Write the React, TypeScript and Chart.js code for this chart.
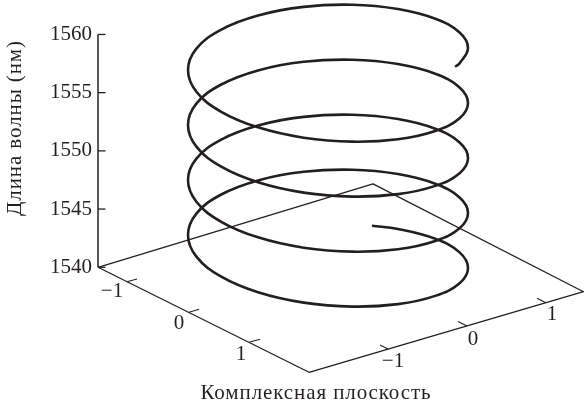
import React, { useEffect, useRef } from "react";
import { Chart, registerables } from "chart.js";

Chart.register(...registerables);

// Helix: horizontal position in the projected plane, height in nm-equivalent
const helixX = [
  372, 398, 435.2, 459.6,
  468, 459.6, 435.2, 398, 352.3, 303.7, 258, 220.8, 196.4, 188, 196.4, 220.8, 258, 303.7, 352.3, 398, 435.2, 459.6,
  468, 459.6, 435.2, 398, 352.3, 303.7, 258, 220.8, 196.4, 188, 196.4, 220.8, 258, 303.7, 352.3, 398, 435.2, 459.6,
  468, 459.6, 435.2, 398, 352.3, 303.7, 258, 220.8, 196.4, 188, 196.4, 220.8, 258, 303.7, 352.3, 398, 435.2, 459.6,
  468, 459.6, 435.2, 398, 352.3, 303.7, 258, 220.8, 196.4, 188, 196.4, 220.8, 258, 303.7, 352.3, 398, 435.2, 459.6,
  468, 459.6, 455,
];
const helixY = [
  1543.57, 1543.29, 1542.45, 1541.28,
  1539.94, 1538.63, 1537.54, 1536.83, 1536.62, 1536.96, 1537.85, 1539.21, 1540.91, 1542.77, 1544.61, 1546.23, 1547.46, 1548.2, 1548.38, 1548.01, 1547.18, 1546.0,
  1544.66, 1543.35, 1542.26, 1541.55, 1541.34, 1541.68, 1542.57, 1543.93, 1545.63, 1547.49, 1549.33, 1550.95, 1552.18, 1552.92, 1553.1, 1552.73, 1551.9, 1550.72,
  1549.39, 1548.08, 1546.99, 1546.28, 1546.07, 1546.41, 1547.3, 1548.66, 1550.36, 1552.22, 1554.06, 1555.68, 1556.91, 1557.65, 1557.83, 1557.46, 1556.63, 1555.45,
  1554.11, 1552.8, 1551.71, 1551.0, 1550.79, 1551.13, 1552.02, 1553.38, 1555.08, 1556.94, 1558.78, 1560.4, 1561.63, 1562.37, 1562.55, 1562.18, 1561.35, 1560.17,
  1558.84, 1557.53, 1557.23,
];

const floorX = [98, 373, 583.5, 309, 98];
const floorY = [1540, 1547.16, 1537.9, 1530.98, 1540];

const axisX = [98, 98];
const axisY = [1540, 1560];

const waveTicks = [1540, 1545, 1550, 1555, 1560];
const waveTickEndX = 105.5;

const planeTickX = [[127,137],[189,199],[249,260],[380,388],[458,467],[537,546]];
const planeTickY = [[1538.76,1538.99],[1536.13,1536.39],[1533.56,1533.82],[1533.33,1532.98],[1535.33,1534.96],[1537.34,1536.96]];

const planeLabels = ["−1", "0", "1", "−1", "0", "1"];
const planeLabelX = [112, 179, 241, 393, 473, 552];
const planeLabelY = [1537.9, 1535.19, 1532.47, 1531.89, 1533.76, 1535.9];

const xTitle = "Комплексная плоскость";
const yTitle = "Длина волны (нм)";

const INK = "#231f20";
const FONT = '"Liberation Serif", serif';

const line = (xs: number[], ys: number[], width: number, tension = 0) => ({
  data: xs.map((x, i) => ({ x, y: ys[i] })),
  showLine: true,
  borderColor: INK,
  borderWidth: width,
  pointRadius: 0,
  tension,
  clip: false as const,
  borderCapStyle: "butt" as const,
  borderJoinStyle: "round" as const,
});

const textPlugin = {
  id: "chartText",
  afterDraw(chart: any) {
    const { ctx, scales } = chart;
    ctx.save();
    ctx.fillStyle = INK;
    ctx.textAlign = "center";
    ctx.textBaseline = "middle";
    ctx.font = `21px ${FONT}`;
    planeLabels.forEach((t, i) => {
      ctx.fillText(t, scales.x.getPixelForValue(planeLabelX[i]), scales.y.getPixelForValue(planeLabelY[i]));
    });
    ctx.letterSpacing = "0.9px";
    ctx.fillText(xTitle, 316, 393);
    ctx.translate(15, 128);
    ctx.rotate(-Math.PI / 2);
    ctx.fillText(yTitle, 0, 0);
    ctx.restore();
  },
};

export default function App() {
  const ref = useRef<HTMLCanvasElement | null>(null);
  useEffect(() => {
    if (!ref.current) return;
    const chart = new Chart(ref.current, {
      type: "scatter",
      data: {
        datasets: [
          line(floorX, floorY, 1.3),
          line(axisX, axisY, 1.5),
          ...waveTicks.map((v) => line([axisX[0], waveTickEndX], [v, v], 1.3)),
          ...planeTickX.map((xs, i) => line(xs, planeTickY[i], 1.1)),
          line(helixX, helixY, 2.6, 0.4),
        ],
      },
      options: {
        animation: false,
        responsive: false,
        layout: { padding: { left: 0, right: 0, top: 0, bottom: 33 } },
        plugins: { legend: { display: false }, tooltip: { enabled: false } },
        scales: {
          x: { type: "linear", display: false, min: 98, max: 584 },
          y: {
            type: "linear",
            min: 1530.83,
            max: 1562.96,
            border: { display: false },
            grid: { display: false, drawTicks: false },
            afterBuildTicks: (scale: any) => {
              scale.ticks = waveTicks.map((value) => ({ value }));
            },
            afterFit: (scale: any) => {
              scale.width = 98;
              scale.paddingTop = 0;
              scale.paddingBottom = 0;
            },
            ticks: {
              autoSkip: false,
              padding: 6,
              color: INK,
              font: { family: FONT, size: 21 },
              callback: (v: any) => String(v),
            },
          },
        },
      },
      plugins: [textPlugin],
    } as any);
    return () => chart.destroy();
  }, []);
  return (
    <div style={{ position: "absolute", left: 0, top: 0, width: 584, height: 407, background: "#fff" }}>
      <canvas ref={ref} width={584} height={407} style={{ display: "block" }} />
    </div>
  );
}
